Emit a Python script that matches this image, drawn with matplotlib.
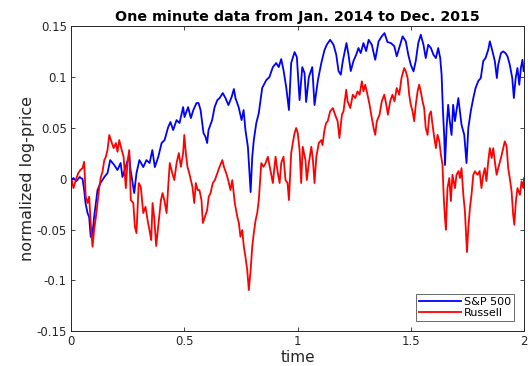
import matplotlib
matplotlib.use("Agg")
import matplotlib.pyplot as plt

# S&P 500 (time, normalized log-price)
sp_time = [0.000, 0.011, 0.024, 0.038, 0.051, 0.058, 0.064, 0.073, 0.080, 0.087,
           0.093, 0.102, 0.117, 0.130, 0.147, 0.161, 0.173, 0.191, 0.205, 0.219,
           0.227, 0.241, 0.257, 0.263, 0.279, 0.289, 0.302, 0.319, 0.333, 0.347,
           0.359, 0.370, 0.385, 0.400, 0.413, 0.429, 0.439, 0.451, 0.466, 0.479,
           0.495, 0.501, 0.517, 0.529, 0.540, 0.554, 0.563, 0.572, 0.585, 0.594,
           0.601, 0.607, 0.623, 0.634, 0.646, 0.656, 0.670, 0.682, 0.695, 0.709,
           0.719, 0.726, 0.740, 0.753, 0.762, 0.770, 0.781, 0.793, 0.800, 0.807,
           0.818, 0.829, 0.844, 0.862, 0.876, 0.891, 0.906, 0.917, 0.928, 0.938,
           0.950, 0.962, 0.972, 0.987, 0.997, 1.009, 1.021, 1.031, 1.038, 1.050,
           1.065, 1.075, 1.090, 1.105, 1.119, 1.129, 1.144, 1.159, 1.171, 1.181,
           1.191, 1.200, 1.216, 1.225, 1.235, 1.247, 1.259, 1.269, 1.279, 1.291,
           1.303, 1.314, 1.328, 1.343, 1.358, 1.372, 1.384, 1.397, 1.412, 1.427,
           1.438, 1.449, 1.464, 1.478, 1.489, 1.500, 1.512, 1.522, 1.533, 1.544,
           1.556, 1.566, 1.577, 1.589, 1.600, 1.611, 1.621, 1.630, 1.636, 1.642,
           1.648, 1.651, 1.658, 1.665, 1.672, 1.680, 1.687, 1.695, 1.710, 1.717,
           1.724, 1.736, 1.746, 1.754, 1.765, 1.776, 1.786, 1.798, 1.809, 1.820,
           1.830, 1.842, 1.849, 1.857, 1.864, 1.871, 1.880, 1.886, 1.898, 1.908,
           1.918, 1.927, 1.937, 1.948, 1.955, 1.963, 1.971, 1.979, 1.986, 1.993,
           1.998]
sp_value = [-0.0013, 0.0007, -0.0023, 0.0017, -0.0003, -0.0111, -0.0240, -0.0338, -0.0377, -0.0571,
            -0.0584, -0.0377, -0.0111, -0.0042, 0.0017, 0.0056, 0.0184, 0.0135, 0.0086, 0.0155,
            0.0017, 0.0115, 0.0233, 0.0086, -0.0141, 0.0056, 0.0184, 0.0115, 0.0184, 0.0155,
            0.0283, 0.0115, 0.0214, 0.0352, 0.0381, 0.0509, 0.0559, 0.0480, 0.0578, 0.0549,
            0.0706, 0.0608, 0.0706, 0.0598, 0.0677, 0.0746, 0.0746, 0.0677, 0.0450, 0.0411,
            0.0352, 0.0480, 0.0578, 0.0706, 0.0775, 0.0795, 0.0844, 0.0795, 0.0726, 0.0805,
            0.0884, 0.0795, 0.0706, 0.0578, 0.0677, 0.0480, 0.0312, -0.0131, 0.0214, 0.0381,
            0.0549, 0.0647, 0.0894, 0.0972, 0.1002, 0.1100, 0.1140, 0.1100, 0.1179, 0.1071,
            0.0903, 0.0677, 0.1140, 0.1248, 0.1199, 0.0775, 0.1100, 0.1041, 0.0756, 0.1002,
            0.1100, 0.0726, 0.0972, 0.1140, 0.1268, 0.1320, 0.1369, 0.1320, 0.1222, 0.1061,
            0.1025, 0.1160, 0.1337, 0.1222, 0.1061, 0.1160, 0.1222, 0.1288, 0.1238, 0.1337,
            0.1258, 0.1369, 0.1320, 0.1172, 0.1354, 0.1403, 0.1435, 0.1347, 0.1337, 0.1307,
            0.1206, 0.1288, 0.1403, 0.1354, 0.1222, 0.1123, 0.1058, 0.1160, 0.1337, 0.1419,
            0.1320, 0.1189, 0.1320, 0.1288, 0.1222, 0.1189, 0.1288, 0.1189, 0.1025, 0.0667,
            0.0401, 0.0135, 0.0500, 0.0729, 0.0568, 0.0431, 0.0729, 0.0568, 0.0795, 0.0667,
            0.0532, 0.0433, 0.0155, 0.0500, 0.0667, 0.0795, 0.0894, 0.0963, 0.0992, 0.1160,
            0.1189, 0.1271, 0.1354, 0.1288, 0.1222, 0.1160, 0.0992, 0.1123, 0.1238, 0.1255,
            0.1238, 0.1206, 0.1123, 0.0992, 0.0795, 0.0992, 0.1091, 0.0926, 0.1091, 0.1172,
            0.1061]

# Russell
ru_time = [0.000, 0.002, 0.011, 0.021, 0.032, 0.041, 0.051, 0.058, 0.065, 0.073,
           0.080, 0.087, 0.095, 0.102, 0.110, 0.125, 0.132, 0.139, 0.147, 0.154,
           0.161, 0.169, 0.176, 0.188, 0.198, 0.205, 0.213, 0.220, 0.232, 0.242,
           0.249, 0.257, 0.264, 0.275, 0.282, 0.289, 0.299, 0.308, 0.319, 0.329,
           0.338, 0.348, 0.354, 0.360, 0.367, 0.376, 0.385, 0.397, 0.404, 0.412,
           0.422, 0.429, 0.436, 0.447, 0.456, 0.466, 0.476, 0.485, 0.495, 0.500,
           0.507, 0.514, 0.522, 0.529, 0.536, 0.544, 0.551, 0.559, 0.567, 0.576,
           0.582, 0.591, 0.601, 0.608, 0.616, 0.626, 0.635, 0.646, 0.656, 0.668,
           0.675, 0.685, 0.694, 0.704, 0.712, 0.723, 0.734, 0.741, 0.748, 0.756,
           0.763, 0.770, 0.778, 0.785, 0.793, 0.800, 0.807, 0.815, 0.822, 0.829,
           0.840, 0.850, 0.859, 0.869, 0.880, 0.891, 0.903, 0.913, 0.921, 0.928,
           0.938, 0.947, 0.956, 0.962, 0.972, 0.979, 0.987, 0.994, 1.001, 1.009,
           1.016, 1.023, 1.035, 1.041, 1.050, 1.061, 1.068, 1.075, 1.083, 1.094,
           1.105, 1.110, 1.119, 1.126, 1.133, 1.144, 1.156, 1.166, 1.177, 1.185,
           1.196, 1.203, 1.215, 1.221, 1.233, 1.244, 1.255, 1.265, 1.274, 1.284,
           1.291, 1.299, 1.309, 1.318, 1.328, 1.336, 1.343, 1.350, 1.362, 1.372,
           1.383, 1.392, 1.399, 1.409, 1.419, 1.428, 1.438, 1.449, 1.459, 1.471,
           1.478, 1.486, 1.493, 1.500, 1.508, 1.515, 1.522, 1.530, 1.537, 1.544,
           1.552, 1.559, 1.566, 1.574, 1.582, 1.589, 1.596, 1.604, 1.611, 1.618,
           1.626, 1.633, 1.640, 1.645, 1.650, 1.655, 1.662, 1.670, 1.677, 1.684,
           1.695, 1.702, 1.711, 1.717, 1.724, 1.732, 1.739, 1.748, 1.754, 1.761,
           1.768, 1.776, 1.783, 1.795, 1.804, 1.812, 1.819, 1.827, 1.834, 1.842,
           1.849, 1.857, 1.864, 1.871, 1.879, 1.886, 1.898, 1.908, 1.915, 1.923,
           1.930, 1.937, 1.945, 1.952, 1.957, 1.964, 1.971, 1.982, 1.989, 1.997,
           2.000]
ru_value = [-0.0062, -0.0013, -0.0092, -0.0013, 0.0056, 0.0086, 0.0105, 0.0167, -0.0177, -0.0239,
            -0.0177, -0.0436, -0.0670, -0.0505, -0.0374, -0.0079, 0.0020, 0.0069, 0.0184, 0.0217,
            0.0283, 0.0431, 0.0381, 0.0302, 0.0352, 0.0266, 0.0381, 0.0315, 0.0217, -0.0092,
            0.0155, 0.0283, -0.0210, -0.0239, -0.0473, -0.0535, -0.0042, -0.0079, -0.0338, -0.0276,
            -0.0407, -0.0525, -0.0604, -0.0239, -0.0374, -0.0663, -0.0473, -0.0210, -0.0141, -0.0210,
            -0.0338, -0.0079, 0.0155, 0.0056, -0.0013, 0.0155, 0.0253, 0.0118, 0.0253, 0.0431,
            0.0253, 0.0118, 0.0056, -0.0013, -0.0079, -0.0239, -0.0042, -0.0111, -0.0111, -0.0210,
            -0.0436, -0.0374, -0.0308, -0.0177, -0.0141, -0.0042, -0.0013, 0.0056, 0.0118, 0.0184,
            0.0118, 0.0056, -0.0013, -0.0111, -0.0013, -0.0239, -0.0374, -0.0436, -0.0571, -0.0505,
            -0.0670, -0.0768, -0.0900, -0.1097, -0.0900, -0.0670, -0.0535, -0.0407, -0.0338, -0.0210,
            0.0155, 0.0118, 0.0155, 0.0217, 0.0086, -0.0042, 0.0217, 0.0056, -0.0042, 0.0155,
            0.0217, -0.0013, -0.0042, -0.0210, 0.0253, 0.0352, 0.0450, 0.0500, 0.0450, 0.0283,
            -0.0042, 0.0315, 0.0184, -0.0013, 0.0155, 0.0315, 0.0184, -0.0042, 0.0217, 0.0352,
            0.0381, 0.0332, 0.0480, 0.0549, 0.0566, 0.0664, 0.0697, 0.0631, 0.0566, 0.0401,
            0.0631, 0.0664, 0.0877, 0.0763, 0.0697, 0.0828, 0.0795, 0.0861, 0.0828, 0.0960,
            0.0861, 0.0926, 0.0828, 0.0729, 0.0598, 0.0500, 0.0433, 0.0566, 0.0631, 0.0763,
            0.0828, 0.0729, 0.0631, 0.0763, 0.0828, 0.0763, 0.0894, 0.0828, 0.0992, 0.1091,
            0.1058, 0.0992, 0.0828, 0.0729, 0.0664, 0.0566, 0.0729, 0.0861, 0.0926, 0.0861,
            0.0763, 0.0697, 0.0500, 0.0433, 0.0631, 0.0664, 0.0532, 0.0401, 0.0302, 0.0433,
            0.0368, 0.0236, 0.0138, -0.0158, -0.0355, -0.0502, -0.0092, 0.0007, -0.0220, 0.0039,
            -0.0092, 0.0039, 0.0076, 0.0007, 0.0105, -0.0158, -0.0321, -0.0722, -0.0486, -0.0289,
            -0.0158, 0.0039, 0.0073, 0.0039, 0.0076, -0.0092, 0.0027, 0.0105, -0.0023, 0.0171,
            0.0302, 0.0204, 0.0302, 0.0171, 0.0039, 0.0105, 0.0204, 0.0302, 0.0368, 0.0322,
            0.0105, 0.0007, -0.0124, -0.0355, -0.0453, -0.0223, -0.0092, -0.0158, -0.0026, -0.0092,
            0.0007]

plt.rcParams['font.family'] = ['DejaVu Sans']
fig = plt.figure(figsize=(5.28, 3.66), dpi=100)
ax = fig.add_axes([0.1345, 0.0956, 0.858, 0.832])

ax.plot(sp_time, sp_value, color='#0000ff', lw=1.3, label='S&P 500')
ax.plot(ru_time, ru_value, color='#ff0000', lw=1.3, label='Russell')

ax.set_xlim(0, 2)
ax.set_ylim(-0.15, 0.15)
ax.set_xticks([0, 0.5, 1, 1.5, 2])
ax.set_xticklabels(['0', '0.5', '1', '1.5', '2'])
ax.set_yticks([-0.15, -0.1, -0.05, 0, 0.05, 0.1, 0.15])
ax.set_yticklabels(['-0.15', '-0.1', '-0.05', '0', '0.05', '0.1', '0.15'])

ax.tick_params(direction='in', length=3, width=0.6, top=True, right=True,
               labelsize=8.5, colors='#262626', pad=3)
for s in ax.spines.values():
    s.set_color('#262626')
    s.set_linewidth(0.7)

ax.set_xlabel('time', fontsize=11, color='#262626', labelpad=1)
ax.set_ylabel('normalized log-price', fontsize=11.5, color='#262626', labelpad=1)
ax.set_title('One minute data from Jan. 2014 to Dec. 2015', fontsize=10.3,
             fontweight='bold', pad=4)

leg = ax.legend(loc='lower right', fontsize=8, frameon=True, fancybox=False,
                handlelength=3.8, handletextpad=0.3, borderpad=0.25,
                labelspacing=0.15, borderaxespad=0.9)
leg.get_frame().set_edgecolor('#262626')
leg.get_frame().set_linewidth(0.6)

fig.savefig('out.png', dpi=100)
